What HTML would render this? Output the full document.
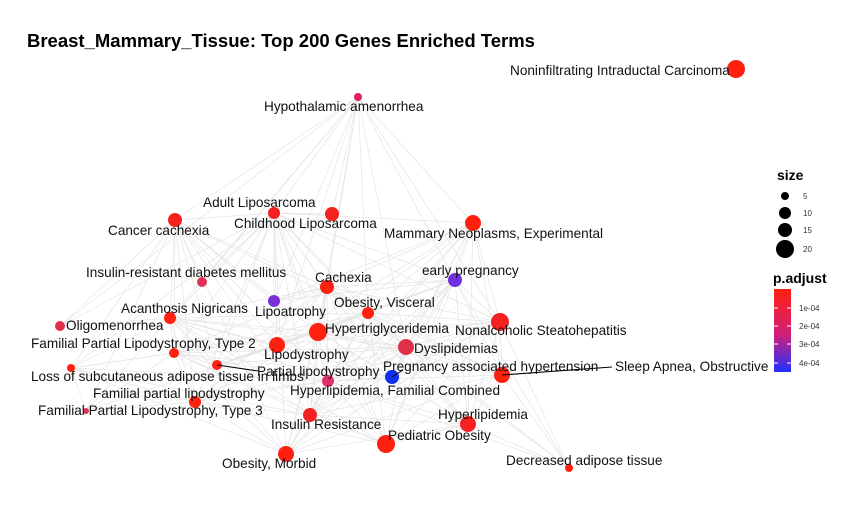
<!DOCTYPE html>
<html><head><meta charset="utf-8"><style>body{margin:0;background:#fff}svg{display:block}text{font-family:"Liberation Sans",sans-serif}</style></head><body>
<svg id="s" width="859" height="516" xmlns="http://www.w3.org/2000/svg">
<defs><linearGradient id="g" x1="0" y1="0" x2="0" y2="1"><stop offset="0" stop-color="#ff2010"/><stop offset="0.55" stop-color="#d0207a"/><stop offset="1" stop-color="#2030ff"/></linearGradient></defs>
<rect width="859" height="516" fill="#fff"/>
<g id="edges" stroke="#dcdcdc" stroke-width="0.7" opacity="0.75"></g>
<g id="nodes"></g>
<line x1="217" y1="365" x2="258" y2="371" stroke="#000" stroke-width="1"/>
<line x1="502" y1="375" x2="612" y2="367" stroke="#000" stroke-width="1"/>
<line x1="392" y1="377" x2="403" y2="370" stroke="#000" stroke-width="1"/>
<g font-size="13.6" fill="#111">
<text x="510" y="75">Noninfiltrating Intraductal Carcinoma</text>
<text x="264" y="111">Hypothalamic amenorrhea</text>
<text x="203" y="207">Adult Liposarcoma</text>
<text x="234" y="228">Childhood Liposarcoma</text>
<text x="108" y="235">Cancer cachexia</text>
<text x="384" y="238">Mammary Neoplasms, Experimental</text>
<text x="86" y="277">Insulin-resistant diabetes mellitus</text>
<text x="315" y="282">Cachexia</text>
<text x="422" y="275">early pregnancy</text>
<text x="255" y="316">Lipoatrophy</text>
<text x="334" y="307">Obesity, Visceral</text>
<text x="121" y="313">Acanthosis Nigricans</text>
<text x="66" y="330">Oligomenorrhea</text>
<text x="325" y="333">Hypertriglyceridemia</text>
<text x="455" y="335">Nonalcoholic Steatohepatitis</text>
<text x="31" y="348">Familial Partial Lipodystrophy, Type 2</text>
<text x="264" y="359">Lipodystrophy</text>
<text x="414" y="353">Dyslipidemias</text>
<text x="257" y="376">Partial lipodystrophy</text>
<text x="31" y="381">Loss of subcutaneous adipose tissue in limbs</text>
<text x="383" y="371">Pregnancy associated hypertension</text>
<text x="615" y="371">Sleep Apnea, Obstructive</text>
<text x="290" y="395">Hyperlipidemia, Familial Combined</text>
<text x="93" y="398">Familial partial lipodystrophy</text>
<text x="38" y="415">Familial Partial Lipodystrophy, Type 3</text>
<text x="271" y="429">Insulin Resistance</text>
<text x="438" y="419">Hyperlipidemia</text>
<text x="388" y="440">Pediatric Obesity</text>
<text x="222" y="468">Obesity, Morbid</text>
<text x="506" y="465">Decreased adipose tissue</text>
</g>
<text x="27" y="47" font-size="18.5" font-weight="bold" fill="#000">Breast_Mammary_Tissue: Top 200 Genes Enriched Terms</text>
<text x="777" y="180" font-size="14" font-weight="bold">size</text>
<circle cx="785" cy="196" r="4"/><circle cx="785" cy="213" r="6"/><circle cx="785" cy="230" r="7"/><circle cx="785" cy="249" r="9"/>
<g font-size="8" fill="#333"><text x="803" y="199">5</text><text x="803" y="216">10</text><text x="803" y="233">15</text><text x="803" y="252">20</text></g>
<text x="773" y="283" font-size="14" font-weight="bold">p.adjust</text>
<rect x="774" y="289" width="17" height="83" fill="url(#g)"/>
<g stroke="#fff" stroke-width="1"><line x1="774" y1="308" x2="778" y2="308"/><line x1="787" y1="308" x2="791" y2="308"/><line x1="774" y1="326" x2="778" y2="326"/><line x1="787" y1="326" x2="791" y2="326"/><line x1="774" y1="344" x2="778" y2="344"/><line x1="787" y1="344" x2="791" y2="344"/><line x1="774" y1="363" x2="778" y2="363"/><line x1="787" y1="363" x2="791" y2="363"/></g>
<g font-size="8" fill="#333"><text x="799" y="311">1e-04</text><text x="799" y="329">2e-04</text><text x="799" y="347">3e-04</text><text x="799" y="366">4e-04</text></g>
</svg>
<script>
var N=[[736,69,9,"#ff2010"],[358,97,4,"#e0205a"],[274,213,6,"#f52020"],[332,214,7,"#f52020"],[175,220,7,"#f52020"],[473,223,8,"#ff2010"],[202,282,5,"#e0305a"],[327,287,7,"#ff2010"],[455,280,7,"#7030e0"],[274,301,6,"#7b2fd8"],[368,313,6,"#ff2010"],[170,318,6,"#ff2010"],[60,326,5,"#e0304a"],[318,332,9,"#ff2010"],[500,322,9,"#f52020"],[277,345,8,"#ff2010"],[406,347,8,"#e0304a"],[174,353,5,"#ff2010"],[217,365,5,"#ff2010"],[71,368,4,"#ff2010"],[328,381,6,"#e0306a"],[392,377,7,"#1030f0"],[502,375,8,"#ff2010"],[195,402,6,"#ff2010"],[86,411,3,"#e0305a"],[310,415,7,"#f52020"],[468,424,8,"#f52020"],[386,444,9,"#ff2010"],[286,454,8,"#ff2010"],[569,468,4,"#ff2010"]];
var e=document.getElementById("edges"),n=document.getElementById("nodes"),ns="http://www.w3.org/2000/svg";
for(var i=1;i<N.length;i++)for(var j=i+1;j<N.length;j++){var dx=N[i][0]-N[j][0],dy=N[i][1]-N[j][1];var d=Math.sqrt(dx*dx+dy*dy);if(d<260&&((i*7+j*3)%3!=0)||i==1&&j<16){var l=document.createElementNS(ns,"line");l.setAttribute("x1",N[i][0]);l.setAttribute("y1",N[i][1]);l.setAttribute("x2",N[j][0]);l.setAttribute("y2",N[j][1]);e.appendChild(l);}}
N.forEach(function(p){var c=document.createElementNS(ns,"circle");c.setAttribute("cx",p[0]);c.setAttribute("cy",p[1]);c.setAttribute("r",p[2]);c.setAttribute("fill",p[3]);n.appendChild(c);});
</script>
</body></html>
